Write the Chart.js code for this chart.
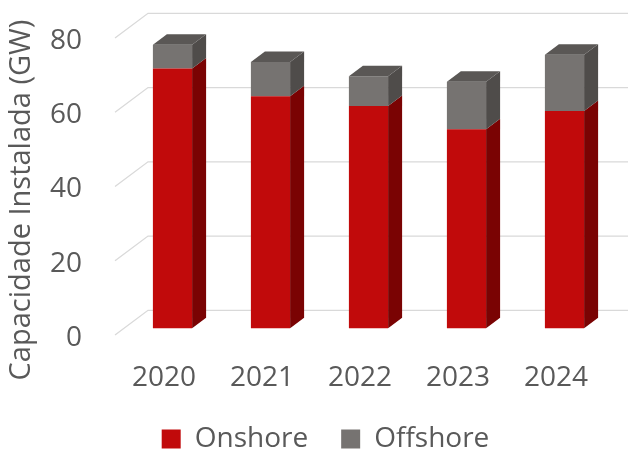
<!DOCTYPE html>
<html>
<head>
<meta charset="utf-8">
<script src="https://cdn.jsdelivr.net/npm/chart.js@4.4.1/dist/chart.umd.min.js"></script>
<style>
  html, body { margin: 0; padding: 0; background: #fff; }
  #wrap { width: 628px; height: 453px; }
</style>
</head>
<body>
<div id="wrap"><canvas id="graficoCapacidade"></canvas></div>
<script>
const anos = ['2020', '2021', '2022', '2023', '2024'];
const onshore = [70.0, 62.5, 59.9, 53.6, 58.5];
const offshore = [6.4, 9.2, 8.0, 12.8, 15.2];
const ticksY = [0, 20, 40, 60, 80];
const tituloY = 'Capacidade Instalada (GW)';

const corTexto = '#595959';
const fonte = { family: '"Open Sans", sans-serif', size: 28 };

// deslocamentos da perspectiva (colunas 3D)
const profundidade = { dx: 14, dy: -10.5 };
const deslocBarras = { dx: 8.5, dy: -6.7 };
const deslocParede = { dx: 33, dy: -24.7 };

function face(ctx, pts, cor) {
    ctx.beginPath();
    ctx.moveTo(pts[0][0], pts[0][1]);
    for (let k = 1; k < pts.length; k++) ctx.lineTo(pts[k][0], pts[k][1]);
    ctx.closePath();
    ctx.fillStyle = cor;
    ctx.fill();
}

const efeito3D = {
    id: 'efeito3D',
    afterLayout(chart) {
        // legenda centrada um pouco à direita, como no Excel
        chart.legend.left += 23;
        chart.legend.right += 23;
    },
    beforeDatasetsDraw(chart) {
        const { ctx, chartArea, scales: { y } } = chart;
        // grelha na parede do fundo, com as diagonais da parede lateral
        ctx.save();
        ctx.strokeStyle = '#D9D9D9';
        ctx.lineWidth = 1.3;
        ticksY.forEach(function(v) {
            const py = y.getPixelForValue(v);
            ctx.beginPath();
            ctx.moveTo(chartArea.left, py);
            ctx.lineTo(chartArea.left + deslocParede.dx, py + deslocParede.dy);
            ctx.lineTo(chart.width, py + deslocParede.dy);
            ctx.stroke();
        });
        ctx.restore();
        // as colunas ficam um pouco atrás do plano dos eixos
        ctx.save();
        ctx.translate(deslocBarras.dx, deslocBarras.dy);
    },
    afterDatasetsDraw(chart) {
        const ctx = chart.ctx;
        const { dx, dy } = profundidade;
        for (let i = 0; i < chart.data.labels.length; i++) {
            let topo = null;
            chart.data.datasets.forEach(function(ds, d) {
                const el = chart.getDatasetMeta(d).data[i];
                const dir = el.x + el.width / 2;
                face(ctx, [[dir, el.base], [dir + dx, el.base + dy], [dir + dx, el.y + dy], [dir, el.y]], ds.corLateral);
                topo = { el: el, ds: ds };
            });
            const el = topo.el;
            const esq = el.x - el.width / 2, dir = el.x + el.width / 2;
            face(ctx, [[esq, el.y], [esq + dx, el.y + dy], [dir + dx, el.y + dy], [dir, el.y]], topo.ds.corTopo);
        }
        ctx.restore();
    },
    afterDraw(chart) {
        const ctx = chart.ctx;
        ctx.save();
        ctx.translate(22, 200);
        ctx.rotate(-Math.PI / 2);
        ctx.fillStyle = corTexto;
        ctx.font = '29px ' + fonte.family;
        ctx.textAlign = 'center';
        ctx.textBaseline = 'middle';
        ctx.fillText(tituloY, 0, 0);
        ctx.restore();
    }
};

const ctx = document.getElementById('graficoCapacidade').getContext('2d');
const grafico = new Chart(ctx, {
    type: 'bar',
    data: {
        labels: anos,
        datasets: [{
            label: 'Onshore',
            data: onshore,
            backgroundColor: '#C10A0B',
            corLateral: '#7A0303',
            corTopo: '#9A0606',
            borderWidth: 0,
            clip: false
        }, {
            label: 'Offshore',
            data: offshore,
            backgroundColor: '#767371',
            corLateral: '#4F4C4A',
            corTopo: '#5A5755',
            borderWidth: 0,
            clip: false
        }]
    },
    options: {
        responsive: true,
        maintainAspectRatio: false,
        animation: false,
        layout: { padding: { left: 0, right: 23, top: 38, bottom: 0 } },
        datasets: { bar: { categoryPercentage: 1, barPercentage: 0.4 } },
        scales: {
            x: {
                stacked: true,
                grid: { display: false, drawTicks: false },
                border: { display: false },
                ticks: { color: corTexto, font: fonte, padding: 26, maxRotation: 0 },
                afterFit: function(s) { s.height = 57; s.paddingLeft = 0; s.paddingRight = 0; }
            },
            y: {
                stacked: true,
                min: 0,
                max: 80,
                grid: { display: false, drawTicks: false },
                border: { display: false },
                ticks: { color: corTexto, font: fonte, padding: 33, labelOffset: 3 },
                afterBuildTicks: function(s) { s.ticks = ticksY.map(function(v) { return { value: v }; }); },
                afterFit: function(s) { s.width = 115; s.paddingTop = 0; s.paddingBottom = 0; }
            }
        },
        plugins: {
            tooltip: { enabled: false },
            legend: {
                position: 'bottom',
                maxHeight: 61,
                labels: { color: corTexto, font: fonte, boxWidth: 19, boxHeight: 19, padding: 33 }
            }
        }
    },
    plugins: [efeito3D]
});
</script>
</body>
</html>
